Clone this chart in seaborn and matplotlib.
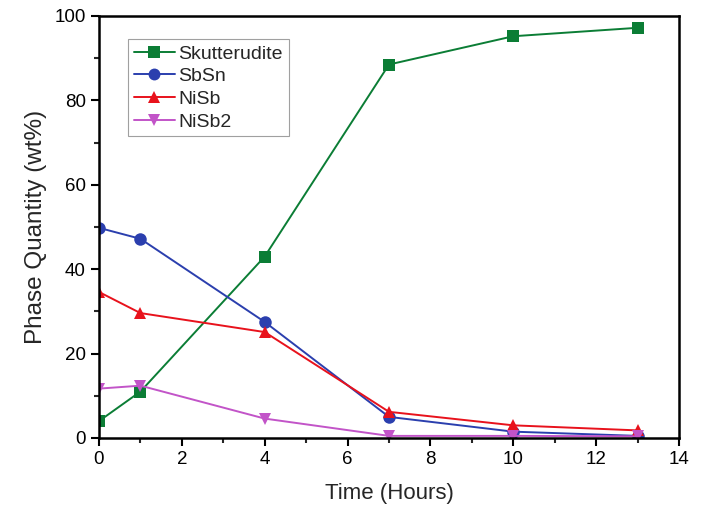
import matplotlib
matplotlib.use("Agg")
import matplotlib.pyplot as plt
import seaborn as sns
import pandas as pd
from matplotlib.ticker import MultipleLocator

time_hours = [0, 1, 4, 7, 10, 13]
skutterudite = [4.0, 11.0, 43.0, 88.5, 95.2, 97.2]
sbsn = [49.8, 47.2, 27.5, 5.0, 1.5, 0.5]
nisb = [34.6, 29.6, 25.1, 6.2, 3.0, 1.8]
nisb2 = [11.7, 12.4, 4.6, 0.5, 0.5, 0.4]
phases = ["Skutterudite", "SbSn", "NiSb", "NiSb2"]

colors = ["#0b7d35", "#2b3fae", "#e8121c", "#c254c8"]
markers = ["s", "o", "^", "v"]

rows = []
for name, vals in zip(phases, [skutterudite, sbsn, nisb, nisb2]):
    for t, v in zip(time_hours, vals):
        rows.append({"Time": t, "Value": v, "Phase": name})
df = pd.DataFrame(rows)

sns.set_style("ticks")
plt.rcParams["font.family"] = ["Liberation Sans", "DejaVu Sans"]

fig = plt.figure(figsize=(7.04, 5.09), dpi=100)
ax = fig.add_axes([0.1406, 0.1395, 0.8239, 0.8291])

sns.lineplot(data=df, x="Time", y="Value", hue="Phase", style="Phase",
             hue_order=phases, style_order=phases,
             palette=dict(zip(phases, colors)),
             markers=dict(zip(phases, markers)),
             dashes=False, markersize=9, linewidth=1.4,
             markeredgewidth=0, ax=ax)

ax.set_xlim(0, 14)
ax.set_ylim(0, 100)
ax.xaxis.set_major_locator(MultipleLocator(2))
ax.xaxis.set_minor_locator(MultipleLocator(1))
ax.yaxis.set_major_locator(MultipleLocator(20))
ax.yaxis.set_minor_locator(MultipleLocator(10))
ax.tick_params(which="major", direction="out", length=6, width=1.5, labelsize=13.5, colors="black")
ax.tick_params(which="minor", direction="out", length=3.5, width=1.5)
ax.tick_params(top=False, right=False, which="both")
for s in ax.spines.values():
    s.set_linewidth(1.8)
    s.set_color("black")

ax.set_xlabel("Time (Hours)", fontsize=16, labelpad=11)
ax.set_ylabel("Phase Quantity (wt%)", fontsize=17.5, labelpad=5)

leg = ax.legend(loc="upper left", bbox_to_anchor=(0.05, 0.945), borderaxespad=0,
                fontsize=14, frameon=True, fancybox=False, handlelength=2.1,
                borderpad=0.3, labelspacing=0.26, handletextpad=0.2,
                markerscale=0.95)
leg.get_frame().set_edgecolor("#888888")
leg.get_frame().set_linewidth(0.8)

fig.savefig("out.png", dpi=100)
